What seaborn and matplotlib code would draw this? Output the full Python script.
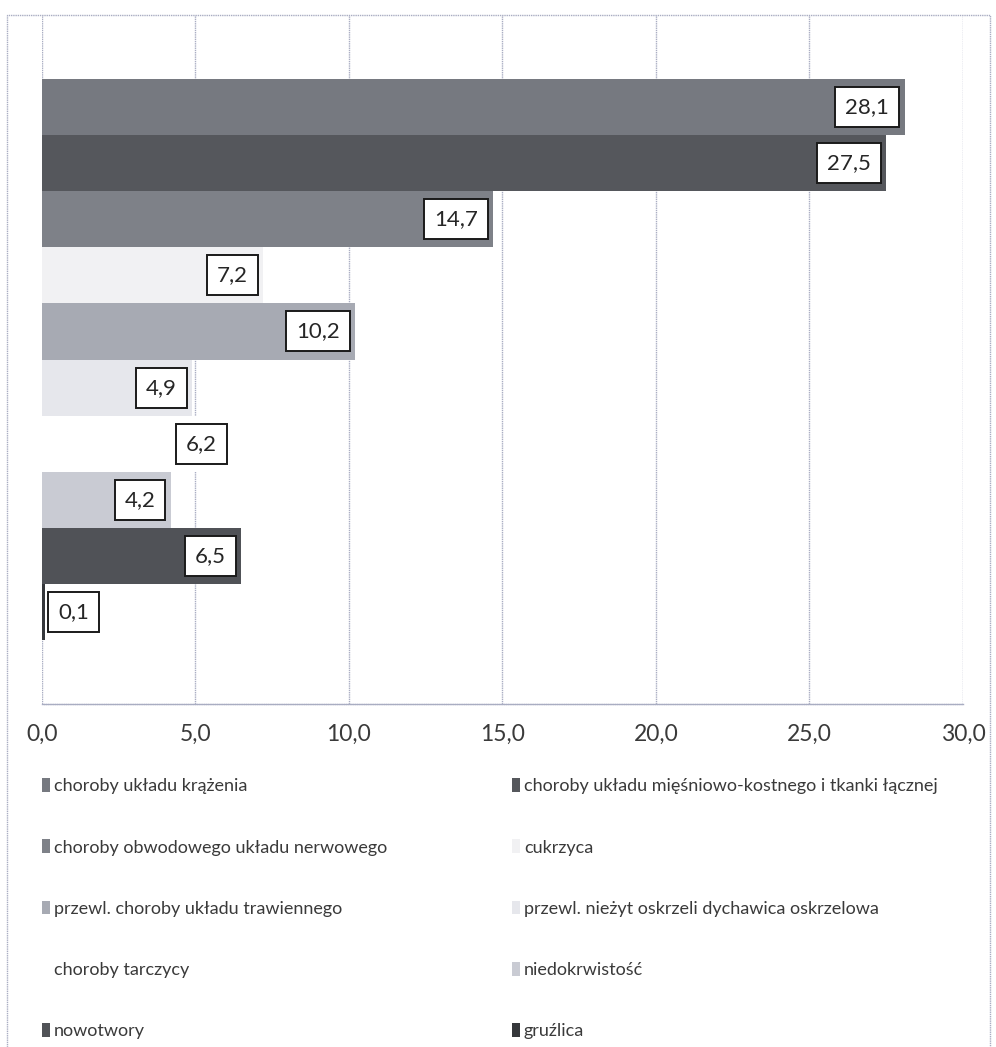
import matplotlib
matplotlib.use("Agg")
import matplotlib.pyplot as plt
import seaborn as sns
import pandas as pd
from matplotlib.patches import Patch, Rectangle

# ---- data ----
series = [
    "choroby układu krążenia",
    "choroby układu mięśniowo-kostnego i tkanki łącznej",
    "choroby obwodowego układu nerwowego",
    "cukrzyca",
    "przewl. choroby układu trawiennego",
    "przewl. nieżyt oskrzeli dychawica oskrzelowa",
    "choroby tarczycy",
    "niedokrwistość",
    "nowotwory",
    "gruźlica",
]
values = [28.1, 27.5, 14.7, 7.2, 10.2, 4.9, 6.2, 4.2, 6.5, 0.1]
xticks = [0, 5, 10, 15, 20, 25, 30]
colors = ["#767980", "#55575c", "#7e8188", "#f1f1f3", "#a7aab3",
          "#e6e7ec", "#ffffff", "#c9cbd3", "#505257", "#35373b"]

sns.set_theme(style="white")
plt.rcParams["font.family"] = ["Lato", "DejaVu Sans"]
TXT = "#3a3a3a"
GRID = "#a9adc2"

df = pd.DataFrame({"series": series, "value": values})

W, H = 996, 1047
fig = plt.figure(figsize=(W / 100, H / 100), dpi=100)
fig.patch.set_facecolor("white")

x0, x1 = 41.7, 963.0
ytop, ybot = 15.0, 704.0
ax = fig.add_axes([x0 / W, 1 - ybot / H, (x1 - x0) / W, (ybot - ytop) / H])

sns.barplot(data=df, y="series", x="value", hue="series", palette=colors,
            order=series, hue_order=series, orient="h", width=1.0,
            dodge=False, legend=False, ax=ax, saturation=1, linewidth=0)

ax.set_xlim(0, 30)
ax.set_ylim(10.63, -1.63)
ax.set_xlabel("")
ax.set_ylabel("")
ax.set_yticks([])
ax.set_xticks(xticks)
ax.set_xticklabels([f"{t:.1f}".replace(".", ",") for t in xticks],
                   fontsize=16.5, color=TXT)
ax.tick_params(axis="x", direction="out", length=6, width=1, color=GRID, pad=8)
ax.grid(axis="x", color=GRID, linewidth=1.0, linestyle=(0, (1, 0.6)))
ax.set_axisbelow(True)
for s in ["top", "right", "left"]:
    ax.spines[s].set_visible(False)
ax.spines["bottom"].set_color(GRID)
ax.spines["bottom"].set_linewidth(1.0)
ax.spines["bottom"].set_linestyle((0, (1, 0.6)))

# data labels (inside end, boxed)
for i, v in enumerate(values):
    label = f"{v:.1f}".replace(".", ",")
    if v < 2:
        ax.annotate(label, xy=(0, i), xytext=(12, 0), textcoords="offset points",
                    ha="left", va="center", fontsize=16, color="#262626",
                    bbox=dict(boxstyle="square,pad=0.45", fc="white", ec="#1a1a1a", lw=1.4))
    else:
        ax.annotate(label, xy=(v, i), xytext=(-11, 0), textcoords="offset points",
                    ha="right", va="center", fontsize=16, color="#262626",
                    bbox=dict(boxstyle="square,pad=0.45", fc="white", ec="#1a1a1a", lw=1.4))

# legend: two columns, Excel row-wise order
handles = [Patch(facecolor=c, edgecolor="none") for c in colors]
left_idx = [0, 2, 4, 6, 8]
right_idx = [1, 3, 5, 7, 9]
common = dict(frameon=False, fontsize=13, handlelength=0.45, handleheight=0.8,
              handletextpad=0.2, labelspacing=2.5, borderpad=0, loc="upper left",
              labelcolor=TXT)
leg1 = fig.legend([handles[i] for i in left_idx], [series[i] for i in left_idx],
                  bbox_to_anchor=(33 / W, 1 - 769 / H), **common)
leg2 = fig.legend([handles[i] for i in right_idx], [series[i] for i in right_idx],
                  bbox_to_anchor=(503 / W, 1 - 769 / H), **common)

# outer chart border
fig.patches.append(Rectangle((7 / W, -0.01), (990 - 7) / W, 1 - 15 / H + 0.01,
                             transform=fig.transFigure, fill=False,
                             edgecolor=GRID, linewidth=1.0, linestyle=(0, (1, 0.6))))

fig.savefig("out.png", dpi=100)
